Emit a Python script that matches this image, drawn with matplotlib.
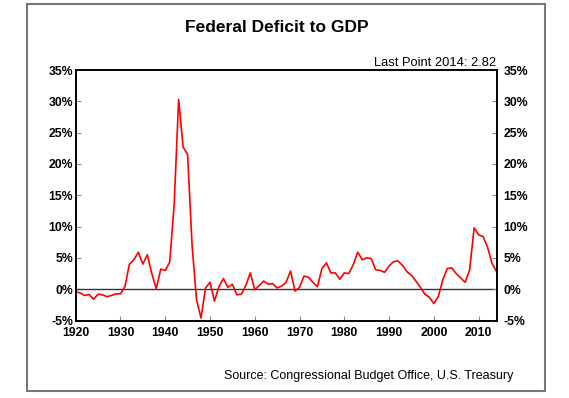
import matplotlib.pyplot as plt
from matplotlib.patches import Rectangle
import numpy as np

# 联邦赤字占GDP比例 (%), 1920-2014
years = list(range(1920, 2015))
deficit = [
    -0.4, -0.6, -1.0, -0.85, -1.6, -0.8, -0.9, -1.2, -1.0, -0.75,   # 1920s
    -0.75, 0.4, 4.0, 4.7, 5.9, 4.0, 5.5, 2.5, 0.1, 3.2,             # 1930s
    3.0, 4.3, 13.5, 30.3, 22.7, 21.5, 7.0, -1.7, -4.6, 0.2,         # 1940s
    1.1, -1.9, 0.4, 1.7, 0.3, 0.8, -0.9, -0.8, 0.6, 2.6,            # 1950s
    -0.1, 0.6, 1.3, 0.8, 0.9, 0.2, 0.5, 1.1, 2.9, -0.3,             # 1960s
    0.3, 2.1, 1.9, 1.1, 0.4, 3.3, 4.2, 2.6, 2.6, 1.6,               # 1970s
    2.6, 2.5, 3.9, 5.9, 4.7, 5.0, 4.9, 3.1, 3.0, 2.7,               # 1980s
    3.7, 4.4, 4.5, 3.8, 2.8, 2.2, 1.3, 0.3, -0.8, -1.3,             # 1990s
    -2.3, -1.2, 1.5, 3.3, 3.4, 2.5, 1.8, 1.1, 3.1, 9.8,             # 2000s
    8.7, 8.4, 6.7, 4.1, 2.82,                                       # 2010s
]
x_ticks = list(range(1920, 2011, 10))
y_ticks = list(range(-5, 36, 5))
y_labels = [f'{v}%' for v in y_ticks]

plt.rcParams['font.family'] = ['Liberation Sans', 'DejaVu Sans']

fig = plt.figure(figsize=(5.69, 3.98), dpi=100)
fig.patch.set_facecolor('white')

# 外框
fig.patches.append(Rectangle((0.0475, 0.0176), 0.958 - 0.0475, 0.99 - 0.0176,
                             transform=fig.transFigure, fill=False,
                             edgecolor='#777777', linewidth=1.5))

ax = fig.add_axes([0.133, 0.1947, 0.7396, 0.6294])
ax.plot(years, deficit, color='#ff0000', linewidth=1.2, zorder=3)
ax.axhline(0, color='#333333', linewidth=1.0, zorder=2)

ax.set_xlim(1920, 2014)
ax.set_ylim(-5, 35)
ax.set_xticks(x_ticks)
ax.set_xticklabels([str(y) for y in x_ticks], fontweight='bold', fontsize=8.8)
ax.set_yticks(y_ticks)
ax.set_yticklabels(y_labels, fontweight='bold', fontsize=8.8)
ax.tick_params(axis='x', direction='in', length=3.5, width=0.8, color='#888888', pad=5)
ax.tick_params(axis='y', direction='in', length=3.5, width=0.8, color='#888888', pad=2)
for s in ax.spines.values():
    s.set_linewidth(1.2)
    s.set_color('black')

# 右侧坐标轴
ax2 = ax.twinx()
ax2.set_ylim(-5, 35)
ax2.set_yticks(y_ticks)
ax2.set_yticklabels(y_labels, fontweight='bold', fontsize=8.8)
ax2.tick_params(axis='y', direction='in', length=3.5, width=0.8, color='#888888', pad=5)
for s in ax2.spines.values():
    s.set_linewidth(1.2)

fig.text(0.487, 0.920, 'Federal Deficit to GDP', ha='center', va='baseline',
         fontsize=12.5, fontweight='bold')
fig.text(0.8726, 0.833, 'Last Point 2014: 2.82', ha='right', va='baseline', fontsize=9.3)
fig.text(0.9016, 0.0477, 'Source: Congressional Budget Office, U.S. Treasury',
         ha='right', va='baseline', fontsize=9)

plt.savefig('out.png', dpi=100)
